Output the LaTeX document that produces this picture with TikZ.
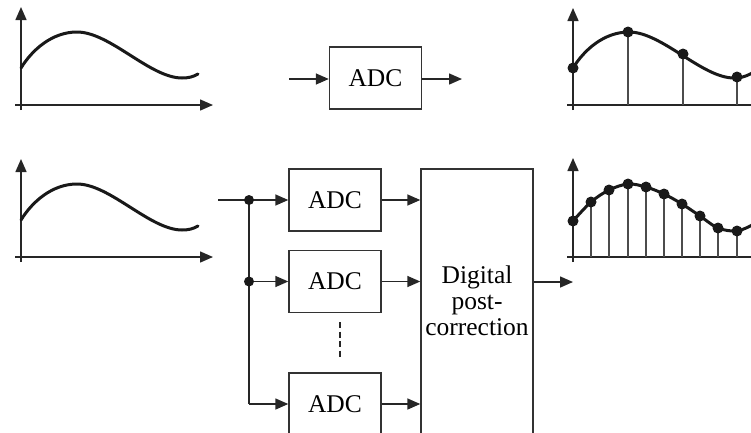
\documentclass[tikz,border=0pt]{standalone}
\usepackage{fontspec}
\setmainfont{Liberation Serif}
\usetikzlibrary{arrows.meta}
\tikzset{
  ln/.style={line width=1.5pt, draw=black!85},
  arr/.style={ln, -{Triangle[length=13pt,width=11pt]}},
  curve/.style={line width=3pt, black!90, line cap=round},
  stem/.style={line width=1.3pt, draw=black!70},
  blk/.style={draw=black!80, line width=1.4pt, minimum width=92pt, minimum height=62pt, inner sep=0pt, font=\fontsize{25.5}{26}\selectfont},
  sdot/.style={circle, fill=black!90, inner sep=0pt, minimum size=11pt},
  jdot/.style={circle, fill=black!90, inner sep=0pt, minimum size=10pt},
}
\begin{document}
\begin{tikzpicture}[x=1pt,y=-1pt]
\useasboundingbox (0,0) rectangle (751,432);
\clip (0,0) rectangle (751,432);
% ---------- top-left plot
\coordinate (tlO1) at (21,110); \coordinate (tlY) at (21,7);
\coordinate (tlX0) at (15,105); \coordinate (tlX) at (213,105);
\draw[arr] (tlO1) -- (tlY);
\draw[arr] (tlX0) -- (tlX);
\draw[curve] (21,68) .. controls (32,50) and (52,32) .. (77,32) .. controls (110,32) and (150,78) .. (182,78) .. controls (188,78) and (193,77) .. (198,74);
% ---------- bottom-left plot
\coordinate (blO1) at (21,262); \coordinate (blY) at (21,159);
\coordinate (blX0) at (15,257); \coordinate (blX) at (213,257);
\draw[arr] (blO1) -- (blY);
\draw[arr] (blX0) -- (blX);
\draw[curve] (21,220) .. controls (32,202) and (52,184) .. (77,184) .. controls (110,184) and (150,230) .. (182,230) .. controls (188,230) and (193,229) .. (198,226);
% ---------- top middle ADC
\node[blk] (adc0) at (375.5,78) {ADC};
\coordinate (in0) at (289,79);
\coordinate (out0) at (462,79);
\draw[arr] (in0) -- (in0 -| adc0.west);
\draw[arr] (adc0.east |- out0) -- (out0);
% ---------- top-right plot
\coordinate (trO1) at (573,110); \coordinate (trY) at (573,8);
\coordinate (trX0) at (567,105); \coordinate (trX) at (765,105);
\draw[arr] (trO1) -- (trY);
\draw[arr] (trX0) -- (trX);
\draw[curve] (573,68) .. controls (584,50) and (604,32) .. (629,32) .. controls (662,32) and (702,78) .. (734,78) .. controls (740,78) and (745,77) .. (752,73);
\foreach \x/\y in {628/32, 683/54, 737/77}{
  \draw[stem] (\x,\y) -- (\x,105);
  \node[sdot] at (\x,\y) {};
}
\node[sdot] at (573,68) {};
% ---------- bottom-right plot
\coordinate (brO1) at (573,262); \coordinate (brY) at (573,158);
\coordinate (brX0) at (567,257); \coordinate (brX) at (765,257);
\draw[arr] (brO1) -- (brY);
\draw[arr] (brX0) -- (brX);
\draw[curve] plot[smooth, tension=0.55] coordinates {(573,221) (591,202) (609,190) (628,184) (646,187) (664,194) (682,204) (700,216) (718,228) (737,231) (752,225)};
\foreach \x/\y in {591/202, 609/190, 628/184, 646/187, 664/194, 682/204, 700/216, 718/228, 737/231}{
  \draw[stem] (\x,\y) -- (\x,257);
}
\foreach \x/\y in {573/221, 591/202, 609/190, 628/184, 646/187, 664/194, 682/204, 700/216, 718/228, 737/231}{
  \node[sdot] at (\x,\y) {};
}
% ---------- parallel ADC bank
\node[blk] (adc1) at (335,200) {ADC};
\node[blk] (adc2) at (335,281.5) {ADC};
\node[blk] (adc3) at (335,404) {ADC};
\node[draw=black!80, line width=1.4pt, minimum width=112pt, minimum height=266pt, inner sep=0pt] (dpc) at (477,302) {};
\node[align=center, font=\fontsize{25.5}{26}\selectfont] (dpct) at (477,301) {Digital\\post-\\correction};
\coordinate (inB) at (218,200);
\coordinate (j1) at (249,200);
\coordinate (j2) at (249,281.5);
\coordinate (c3) at (249,404);
\draw[ln] (inB) -- (j1);
\draw[ln] (j1) -- (c3);
\draw[arr] (j1) -- (adc1.west);
\draw[arr] (j2) -- (adc2.west);
\draw[arr] (c3) -- (adc3.west);
\node[jdot] at (j1) {};
\node[jdot] at (j2) {};
\draw[arr] (adc1.east) -- (adc1.east -| dpc.west);
\draw[arr] (adc2.east) -- (adc2.east -| dpc.west);
\draw[arr] (adc3.east) -- (adc3.east -| dpc.west);
\coordinate (dpo) at (573,282);
\draw[arr] (dpc.east |- dpo) -- (dpo);
\coordinate (vd1) at (340,322); \coordinate (vd2) at (340,357);
\draw[line width=2.6pt, black!85, dash pattern=on 6pt off 3.5pt] (vd1) -- (vd2);
\end{tikzpicture}
\end{document}
